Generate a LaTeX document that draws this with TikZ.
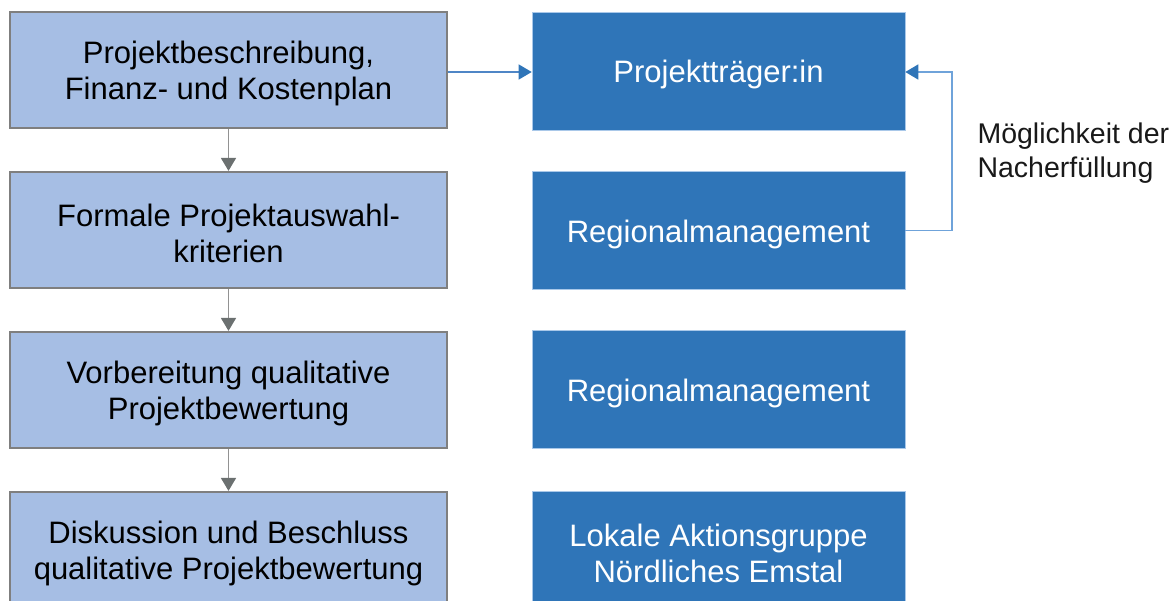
\documentclass[tikz,border=0pt]{standalone}
\usepackage{fontspec}
\setmainfont{Liberation Sans}
\usetikzlibrary{arrows.meta}
\definecolor{lightbox}{HTML}{A6BEE4}
\definecolor{darkbox}{HTML}{2F75B8}
\definecolor{boxgray}{HTML}{7F7F7F}
\definecolor{tipgray}{HTML}{6B7070}
\definecolor{linkblue}{HTML}{4F86C6}
\definecolor{backblue}{HTML}{6FA3DA}
\newcommand\topstrut{\rule{0pt}{30pt}}
\tikzset{
  stepbox/.style={draw=boxgray, line width=2.2pt, fill=lightbox, minimum width=437pt, minimum height=116pt,
    align=center, text=black, font=\fontsize{31}{36}\selectfont, inner sep=0pt},
  rolebox/.style={draw=backblue!60, line width=0.6pt, fill=darkbox, minimum width=373pt, minimum height=118pt,
    align=center, text=white, font=\fontsize{31}{36}\selectfont, inner sep=0pt},
  flowarrow/.style={draw=boxgray!85, line width=1.6pt, -{Triangle[length=13pt,width=15pt,color=tipgray]}},
  linkarrow/.style={draw=linkblue, line width=1.2pt, -{Triangle[length=13pt,width=15pt,color=darkbox]}},
  backarrow/.style={draw=backblue, line width=1.6pt, -{Triangle[length=13pt,width=15pt,color=darkbox]}},
  note/.style={align=left, anchor=west, font=\fontsize{28.5}{34}\selectfont, text=black!90}
}
\begin{document}
\begin{tikzpicture}[x=1pt,y=-1pt]
\useasboundingbox (0,0) rectangle (1174,600);
\node[stepbox] (s1) at (228.5,70) {\topstrut Projektbeschreibung,\\Finanz- und Kostenplan};
\node[stepbox] (s2) at (228.5,230) {\topstrut Formale Projektauswahl-\\kriterien};
\node[stepbox] (s3) at (228.5,390) {\topstrut Vorbereitung qualitative\\Projektbewertung};
\node[stepbox] (s4) at (228.5,550) {\topstrut Diskussion und Beschluss\\qualitative Projektbewertung};
\node[rolebox] (r1) at (718.5,71) {\topstrut Projektträger:in};
\node[rolebox] (r2) at (718.5,230.5) {\topstrut Regionalmanagement};
\node[rolebox] (r3) at (718.5,389.5) {\topstrut Regionalmanagement};
\node[rolebox] (r4) at (718.5,550) {\topstrut Lokale Aktionsgruppe\\Nördliches Emstal};
\draw[flowarrow] (s1.south) -- (s2.north);
\draw[flowarrow] (s2.south) -- (s3.north);
\draw[flowarrow] (s3.south) -- (s4.north);
\draw[linkarrow] (s1.east |- 0,72) -- (r1.west |- 0,72);
\coordinate (bend) at (952,72);
\draw[backarrow] (r2.east) -| (bend) -- (r1.east |- bend);
\node[note] (n1) at (974,153.5) {Möglichkeit der\\Nacherfüllung};
\end{tikzpicture}
\end{document}
